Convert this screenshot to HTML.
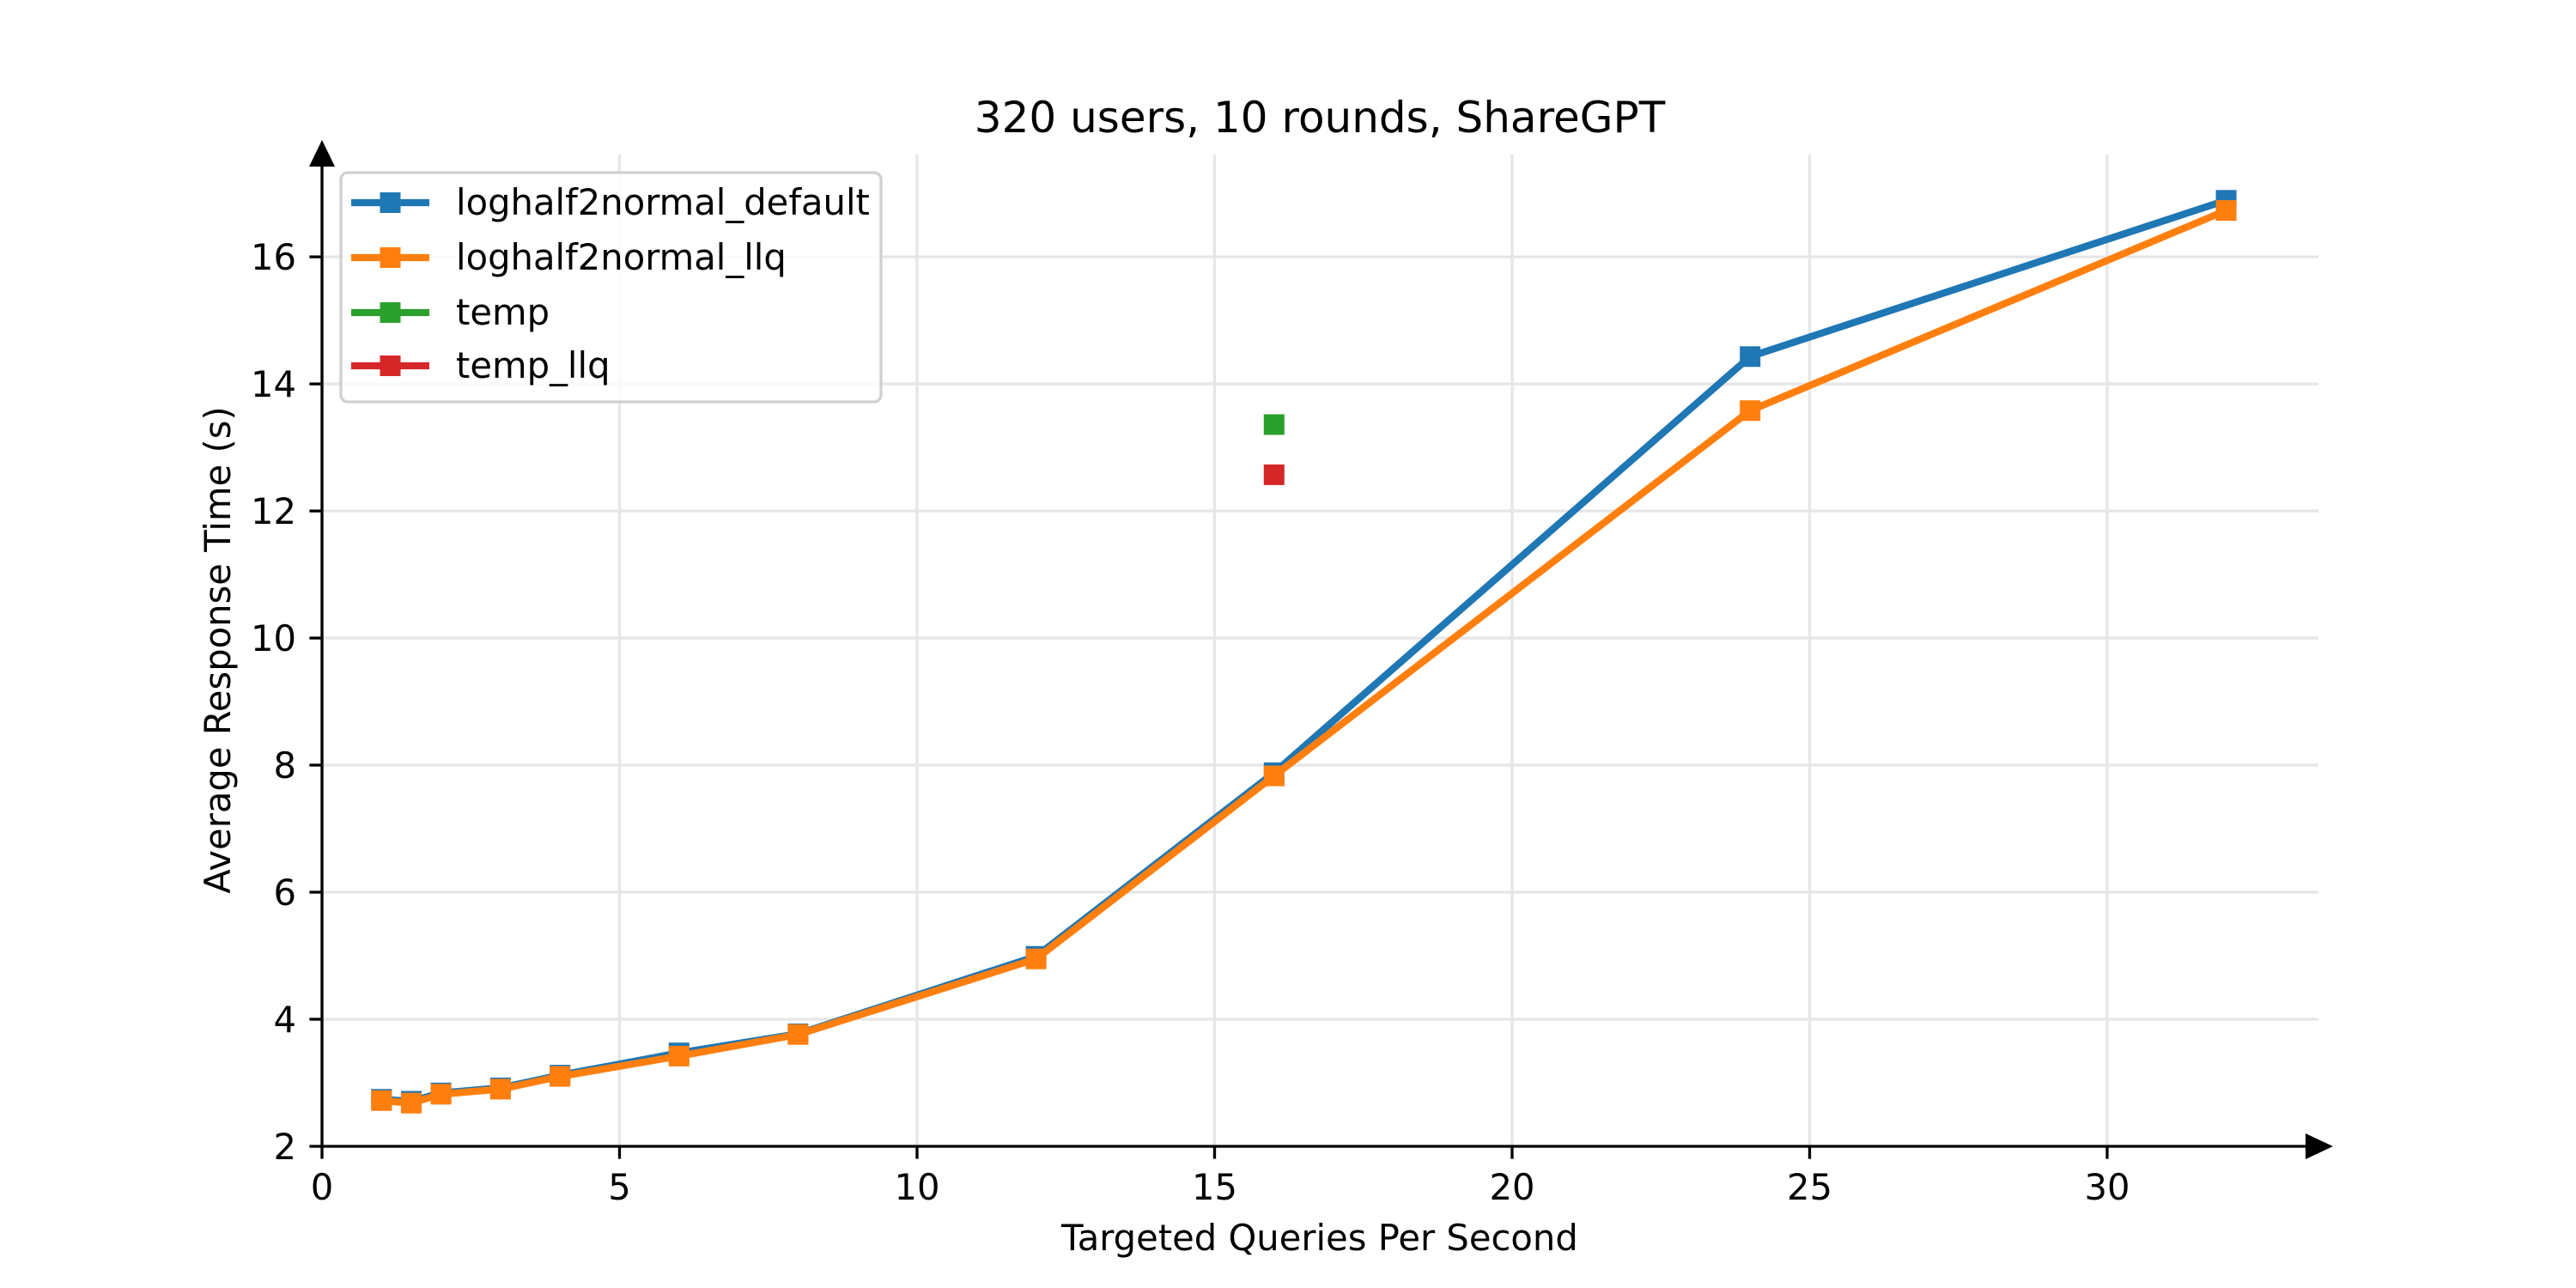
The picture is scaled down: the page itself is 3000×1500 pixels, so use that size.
<!DOCTYPE html>
<html><head><meta charset="utf-8"><style>
html,body{margin:0;padding:0;background:#fff;}
svg{display:block;font-family:"DejaVu Sans","Liberation Sans",sans-serif;}
</style></head><body>
<svg id="chart" width="3000" height="1500" viewBox="0 0 3000 1500" xmlns="http://www.w3.org/2000/svg">
<rect width="3000" height="1500" fill="#fff"/>
<g id="grid"></g>
<g id="axes"></g>
<g id="series"></g>
<text x="1537" y="154" font-size="50" text-anchor="middle">320 users, 10 rounds, ShareGPT</text>
<text x="1537" y="1456" font-size="41.7" text-anchor="middle">Targeted Queries Per Second</text>
<text transform="translate(268,757) rotate(-90)" font-size="41.7" text-anchor="middle">Average Response Time (s)</text>
<g id="legend"></g>
</svg>
<script>
const qps = [1, 1.5, 2, 3, 4, 6, 8, 12, 16, 24, 32];
const defaultTimes = [2.74, 2.71, 2.84, 2.92, 3.12, 3.47, 3.77, 4.99, 7.88, 14.43, 16.89];
const llqTimes = [2.72, 2.68, 2.82, 2.9, 3.1, 3.42, 3.76, 4.95, 7.83, 13.58, 16.73];
const tempX = [16];
const tempTimes = [13.36];
const tempLlqX = [16];
const tempLlqTimes = [12.57];
const xTicks = [0, 5, 10, 15, 20, 25, 30];
const yTicks = [2, 4, 6, 8, 10, 12, 14, 16];
const seriesNames = ["loghalf2normal_default", "loghalf2normal_llq", "temp", "temp_llq"];

const NS = "http://www.w3.org/2000/svg";
const L = 375, R = 2700, T = 180, B = 1335;
const xMin = 0, xMax = 33.55, yMin = 2, yMax = 17.61;
function sx(v){ return L + (v - xMin) / (xMax - xMin) * (R - L); }
function sy(v){ return B - (v - yMin) / (yMax - yMin) * (B - T); }
function mk(tag, attrs, parent){
  const e = document.createElementNS(NS, tag);
  for (const k in attrs) e.setAttribute(k, attrs[k]);
  parent.appendChild(e);
  return e;
}
const grid = document.getElementById('grid');
const axes = document.getElementById('axes');
const series = document.getElementById('series');
const legend = document.getElementById('legend');

xTicks.forEach(t => {
  const g = mk('line', {x1: sx(t), x2: sx(t), y1: T, y2: B, stroke: '#e6e6e6', 'stroke-width': 3.3}, grid);
  
  
  const tk = mk('line', {x1: sx(t), x2: sx(t), y1: B, y2: B + 14.6, stroke: '#000', 'stroke-width': 3.3}, axes);
  
  
  const lb = mk('text', {x: sx(t), y: 1397, 'font-size': 41.7, 'text-anchor': 'middle'}, axes);
  lb.textContent = String(t);
  
  
});
yTicks.forEach(t => {
  const g = mk('line', {x1: L, x2: R, y1: sy(t), y2: sy(t), stroke: '#e6e6e6', 'stroke-width': 3.3}, grid);
  
  
  const tk = mk('line', {x1: L - 14.6, x2: L, y1: sy(t), y2: sy(t), stroke: '#000', 'stroke-width': 3.3}, axes);
  
  
  const lb = mk('text', {x: 345, y: sy(t) + 15, 'font-size': 41.7, 'text-anchor': 'end'}, axes);
  lb.textContent = String(t);
  
  
});
const xa = mk('line', {x1: L, x2: 2690, y1: B, y2: B, stroke: '#000', 'stroke-width': 3.3}, axes);


const xh = mk('polygon', {points: '2685,1320 2717,1335 2685,1350', fill: '#000'}, axes);


const ya = mk('line', {x1: L, x2: L, y1: B, y2: 190, stroke: '#000', 'stroke-width': 3.3}, axes);


const yh = mk('polygon', {points: '360,194 375,163 390,194', fill: '#000'}, axes);



function drawSeries(xs, ys, color, name, line){
  const g = mk('g', {}, series);
  
  
  if (line) {
    const p = mk('polyline', {points: xs.map((x,i)=>sx(x)+','+sy(ys[i])).join(' '), fill: 'none', stroke: color, 'stroke-width': 8.3, 'stroke-linejoin': 'round'}, g);
    
    
  }
  xs.forEach((x,i) => {
    const r = mk('rect', {x: sx(x) - 12, y: sy(ys[i]) - 12, width: 24, height: 24, fill: color}, g);
    
    
  });
}
const colors = ['#1f77b4', '#ff7f0e', '#2ca02c', '#d62728'];
drawSeries(qps, defaultTimes, colors[0], 'loghalf2normal-default', true);
drawSeries(qps, llqTimes, colors[1], 'loghalf2normal-llq', true);
drawSeries(tempX, tempTimes, colors[2], 'temp', true);
drawSeries(tempLlqX, tempLlqTimes, colors[3], 'temp-llq', true);

const box = mk('rect', {x: 397, y: 201, width: 629, height: 267, rx: 8, fill: '#fff', 'fill-opacity': 0.8, stroke: '#d0d0d0', 'stroke-width': 3.3}, legend);


const ly = [236, 300, 364, 426];
seriesNames.forEach((n,i) => {
  const g = mk('g', {}, legend);
  
  
  mk('line', {x1: 409, x2: 500, y1: ly[i], y2: ly[i], stroke: colors[i], 'stroke-width': 8.3}, g);
  mk('rect', {x: 442.5, y: ly[i] - 12, width: 24, height: 24, fill: colors[i]}, g);
  const t = mk('text', {x: 531, y: ly[i] + 14, 'font-size': 41.7}, g);
  t.textContent = n;
});
</script>
</body></html>
